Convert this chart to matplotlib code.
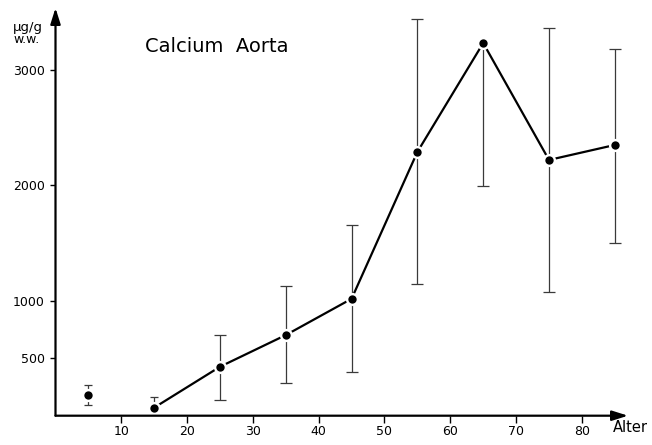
import numpy as np
import matplotlib
matplotlib.use("Agg")
import matplotlib.pyplot as plt

# Calcium content of the aorta by age group (µg/g wet weight)
age = [5, 15, 25, 35, 45, 55, 65, 75, 85]
mean = [180, 70, 425, 700, 1015, 2290, 3235, 2220, 2350]
upper = [270, 165, 700, 1130, 1655, 3440, 3235, 3365, 3185]
lower = [90, 70, 140, 280, 380, 1140, 1995, 1075, 1495]

x_ticks = [10, 20, 30, 40, 50, 60, 70, 80]
y_ticks = [500, 1000, 2000, 3000]

plt.rcParams['font.family'] = ['DejaVu Sans']

W, H = 652, 445
fig = plt.figure(figsize=(W / 100, H / 100), dpi=100)
x0, x1 = 55.5, 628.0
y0, y1 = 415.7, 8.0
ax = fig.add_axes([x0 / W, (H - y0) / H, (x1 - x0) / W, (y0 - y1) / H])

px_per_x = 6.58
px_per_y = 0.1152
ax.set_xlim(0, (x1 - x0) / px_per_x)
ax.set_ylim(0, (y0 - y1) / px_per_y)

age_a = np.array(age, float)
mean_a = np.array(mean, float)
lo_err = mean_a - np.array(lower, float)
up_err = np.array(upper, float) - mean_a

# error bars: small caps for the two youngest groups, wider for the rest
ax.errorbar(age_a[:2], mean_a[:2], yerr=[lo_err[:2], up_err[:2]], fmt='none',
            ecolor='#3a3a3a', elinewidth=0.9, capsize=3, capthick=0.9,
            zorder=2)
ax.errorbar(age_a[2:], mean_a[2:], yerr=[lo_err[2:], up_err[2:]], fmt='none',
            ecolor='#3a3a3a', elinewidth=0.9, capsize=4.5, capthick=0.9,
            zorder=2)

# connecting line (age groups 15..85)
ax.plot(age_a[1:], mean_a[1:], color='black', lw=1.6, zorder=2.5)

# dots with a white halo so lines stop short of them
ax.plot(age_a, mean_a, 'o', ms=9.5, color='white', mec='none', zorder=3)
ax.plot(age_a, mean_a, 'o', ms=6, color='black', mec='none', zorder=4)

# axes drawn as arrows
for s in ax.spines.values():
    s.set_visible(False)
arrow = dict(arrowstyle='-|>,head_length=0.95,head_width=0.3', lw=1.6,
             color='black', shrinkA=0, shrinkB=0)
ax.annotate('', xy=(1, 0), xytext=(0, 0), xycoords='axes fraction',
            arrowprops=arrow, annotation_clip=False)
ax.annotate('', xy=(0, 1), xytext=(0, 0), xycoords='axes fraction',
            arrowprops=arrow, annotation_clip=False)

ax.set_xticks(x_ticks)
ax.set_xticklabels([str(t) for t in x_ticks])
ax.set_yticks(y_ticks)
ax.set_yticklabels([str(t) for t in y_ticks])
ax.tick_params(axis='x', direction='out', length=5, width=1, pad=1.5,
               labelsize=9)
ax.tick_params(axis='y', direction='out', length=3.6, width=1, pad=4,
               labelsize=9)

fig.text(613 / W, 1 - 427 / H, 'Alter', fontsize=10.5, ha='left', va='center')
fig.text(28 / W, 1 - 27.5 / H, 'µg/g', fontsize=9.5, ha='center', va='center')
fig.text(27 / W, 1 - 39.5 / H, 'w.w.', fontsize=9, ha='center', va='center')
fig.text(145 / W, 1 - 47 / H, 'Calcium  Aorta', fontsize=14, ha='left',
         va='center')

fig.savefig('out.png', dpi=100)
